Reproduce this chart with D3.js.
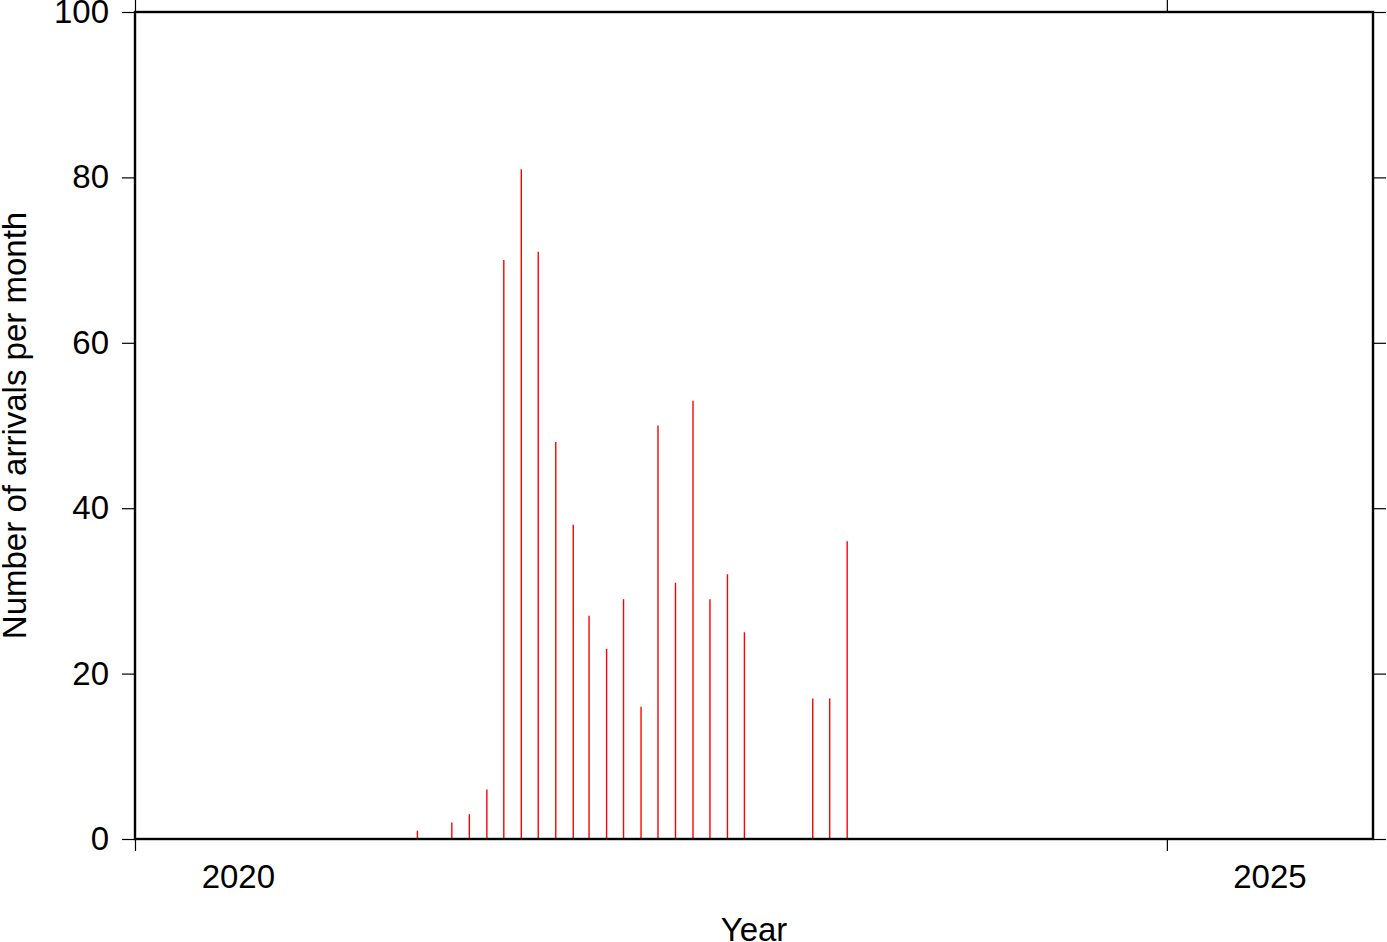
<!DOCTYPE html>
<html>
<head>
<meta charset="utf-8">
<script src="https://cdn.jsdelivr.net/npm/d3@7"></script>
<style>
  html, body { margin: 0; padding: 0; background: #fff; }
  svg { display: block; }
  text { font-family: "Liberation Sans", Arial, Helvetica, sans-serif; fill: #000; }
</style>
</head>
<body>
<svg id="chart" width="1387" height="942"></svg>
<script>
// Data (month of arrivals, count per month)
const months = ["2021-05","2021-07","2021-08","2021-09","2021-10","2021-11","2021-12",
                "2022-01","2022-02","2022-03","2022-04","2022-05","2022-06","2022-07",
                "2022-08","2022-09","2022-10","2022-11","2022-12","2023-04","2023-05","2023-06"];
const counts = [1, 2, 3, 6, 70, 81, 71, 48, 38, 27, 23, 29, 16, 50, 31, 53, 29, 32, 25, 17, 17, 36];
const yTicks = [0, 20, 40, 60, 80, 100];
const xTickYears = [2020, 2025];
const xLabelYears = [2020, 2025];

const svg = d3.select("#chart");
const L = 135, R = 1373, T = 12, B = 839;
const FS = "33px";

const x = d3.scaleTime()
  .domain([new Date(2020, 0, 1), new Date(2026, 0, 1)])
  .range([L, R]);
const y = d3.scaleLinear().domain([0, 100]).range([B, T]);

const parse = d3.timeParse("%Y-%m");
const data = months.map((m, i) => {
  const d = parse(m);
  return { date: new Date(d.getFullYear(), d.getMonth(), 15), value: counts[i] };
});

// Bars
svg.append("g").selectAll("line").data(data).join("line")
  .attr("x1", d => x(d.date)).attr("x2", d => x(d.date))
  .attr("y1", y(0)).attr("y2", d => y(d.value))
  .attr("stroke", "#ff0000").attr("stroke-width", 1.4);

// Left axis
const yLeft = svg.append("g").attr("transform", `translate(${L},0)`)
  .call(d3.axisLeft(y).tickValues(yTicks).tickSize(13).tickPadding(13));
// Right axis
const yRight = svg.append("g").attr("transform", `translate(${R},0)`)
  .call(d3.axisRight(y).tickValues(yTicks).tickSize(13).tickFormat(""));
// Bottom / top axis ticks
const tickDates = xTickYears.map(yr => new Date(yr, 0, 1));
const xBottom = svg.append("g").attr("transform", `translate(0,${B})`)
  .call(d3.axisBottom(x).tickValues(tickDates).tickSize(12).tickFormat(""));
const xTop = svg.append("g").attr("transform", `translate(0,${T})`)
  .call(d3.axisTop(x).tickValues(tickDates).tickSize(12).tickFormat(""));

[yLeft, yRight, xBottom, xTop].forEach(g => {
  g.select(".domain").remove();
  g.selectAll(".tick line").attr("stroke", "#000").attr("stroke-width", 1.2);
});
yLeft.selectAll(".tick text").style("font-size", FS)
  .attr("font-family", "Liberation Sans, Arial, sans-serif").attr("fill", "#000");

// X labels centered in year intervals
svg.append("g").selectAll("text").data(xLabelYears).join("text")
  .attr("x", yr => (x(new Date(yr, 0, 1)) + x(new Date(yr + 1, 0, 1))) / 2)
  .attr("y", 888)
  .attr("text-anchor", "middle")
  .style("font-size", FS)
  .text(d => d);

// Frame
svg.append("rect").attr("x", L).attr("y", T).attr("width", R - L).attr("height", B - T)
  .attr("fill", "none").attr("stroke", "#000").attr("stroke-width", 2.4);

// Axis titles
svg.append("text").attr("x", (L + R) / 2).attr("y", 941)
  .attr("text-anchor", "middle").style("font-size", FS).text("Year");
svg.append("text")
  .attr("transform", `translate(26,${(T + B) / 2}) rotate(-90)`)
  .attr("text-anchor", "middle").style("font-size", FS)
  .text("Number of arrivals per month");
</script>
</body>
</html>
